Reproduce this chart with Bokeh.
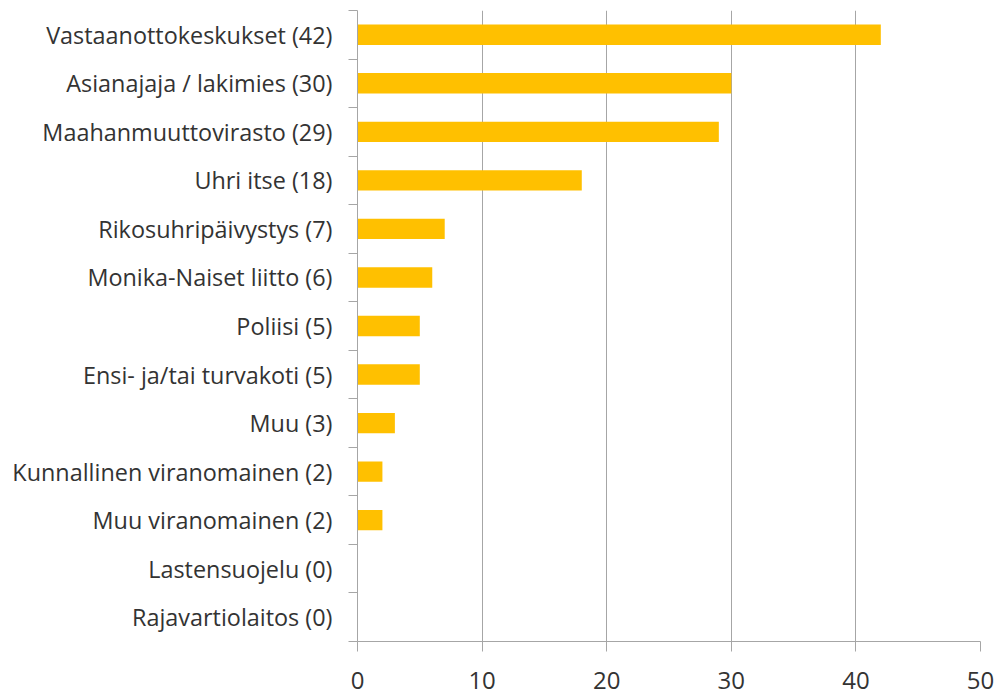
from bokeh.plotting import figure
from bokeh.models import ColumnDataSource, FixedTicker, Range1d
from bokeh.embed import file_html
from bokeh.resources import INLINE

categories = [
    "Vastaanottokeskukset (42)",
    "Asianajaja / lakimies (30)",
    "Maahanmuuttovirasto (29)",
    "Uhri itse (18)",
    "Rikosuhripäivystys (7)",
    "Monika-Naiset liitto (6)",
    "Poliisi (5)",
    "Ensi- ja/tai turvakoti (5)",
    "Muu (3)",
    "Kunnallinen viranomainen (2)",
    "Muu viranomainen (2)",
    "Lastensuojelu (0)",
    "Rajavartiolaitos (0)",
]
values = [42, 30, 29, 18, 7, 6, 5, 5, 3, 2, 2, 0, 0]
x_ticks = [0, 10, 20, 30, 40, 50]

n = len(categories)
ypos = [n - i - 0.5 for i in range(n)]
src = ColumnDataSource(dict(y=ypos, v=values, cat=categories))

FONT = "Open Sans"
TEXT = "#333333"
GRID = "#a6a6a6"

p = figure(
    output_backend="svg", toolbar_location=None,
    frame_width=623, frame_height=631,
    min_border_left=357, min_border_right=14,
    min_border_top=10, min_border_bottom=54,
    x_range=Range1d(0, 50), y_range=Range1d(0, n),
)
p.outline_line_color = None
p.background_fill_color = "white"

p.hbar(y="y", right="v", left=0, height=0.42, source=src,
       fill_color="#FFC000", line_color=None)

# x axis
p.xaxis.ticker = FixedTicker(ticks=x_ticks)
p.xaxis.axis_line_color = GRID
p.xaxis.major_tick_line_color = GRID
p.xaxis.major_tick_out = 10
p.xaxis.major_tick_in = 0
p.xaxis.minor_tick_line_color = None
p.xaxis.major_label_text_font = FONT
p.xaxis.major_label_text_font_size = "24px"
p.xaxis.major_label_text_color = TEXT
p.xaxis.major_label_standoff = 20

# y axis
p.yaxis.ticker = FixedTicker(ticks=ypos, minor_ticks=list(range(n + 1)))
p.yaxis.major_label_overrides = {y: c for y, c in zip(ypos, categories)}
p.yaxis.axis_line_color = GRID
p.yaxis.major_tick_line_color = None
p.yaxis.major_tick_out = 0
p.yaxis.major_tick_in = 0
p.yaxis.minor_tick_line_color = GRID
p.yaxis.minor_tick_out = 9
p.yaxis.minor_tick_in = 0
p.yaxis.major_label_text_font = FONT
p.yaxis.major_label_text_font_size = "23.4px"
p.yaxis.major_label_text_color = TEXT
p.yaxis.major_label_standoff = 16

p.xgrid.ticker = FixedTicker(ticks=x_ticks)
p.xgrid.grid_line_color = GRID
p.ygrid.grid_line_color = None

open("out.html", "w").write(file_html(p, INLINE))
